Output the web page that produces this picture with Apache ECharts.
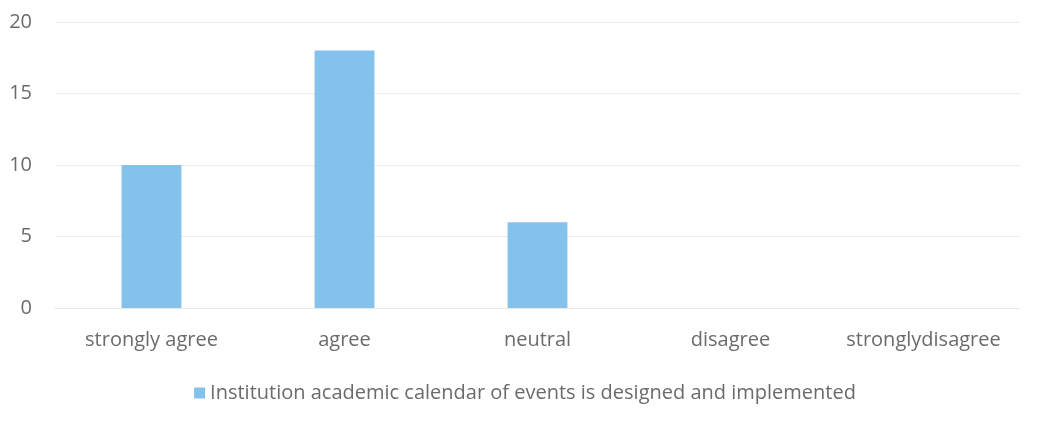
<!DOCTYPE html>
<html><head><meta charset="utf-8">
<script src="https://cdn.jsdelivr.net/npm/echarts@6/dist/echarts.min.js"></script>
<style>html,body{margin:0;padding:0;background:#fff}#c{width:1050px;height:427px}</style>
</head><body><div id="c"></div>
<script>
const categories = ["strongly agree","agree","neutral","disagree","stronglydisagree"];
const values = [10,18,6,0,0];
const seriesName = "Institution academic calendar of events is designed and implemented";
const yTicks = [0,5,10,15,20];

const chart = echarts.init(document.getElementById('c'));
const font = '"Open Sans", sans-serif';
chart.setOption({
  animation:false,
  backgroundColor:'#ffffff',
  grid:{left:55,right:30,top:22,bottom:119},
  legend:{top:378,left:'center',itemWidth:11,itemHeight:11,itemGap:6,icon:'rect',
    textStyle:{color:'#6b6b6b',fontSize:20,fontFamily:font},data:[seriesName]},
  xAxis:{type:'category',data:categories,
    axisLine:{show:true,lineStyle:{color:'#e8e8e8'}},axisTick:{show:false},
    axisLabel:{color:'#6b6b6b',fontSize:20,fontFamily:font,margin:22,interval:0}},
  yAxis:{type:'value',min:0,max:20,interval:5,
    axisLine:{show:false},axisTick:{show:false},
    splitLine:{lineStyle:{color:'#ececec'}},
    axisLabel:{color:'#6b6b6b',fontSize:20,fontFamily:font,margin:23}},
  series:[{name:seriesName,type:'bar',data:values,barWidth:'31%',
    itemStyle:{color:'#84c1eb'}}]
});
</script></body></html>
